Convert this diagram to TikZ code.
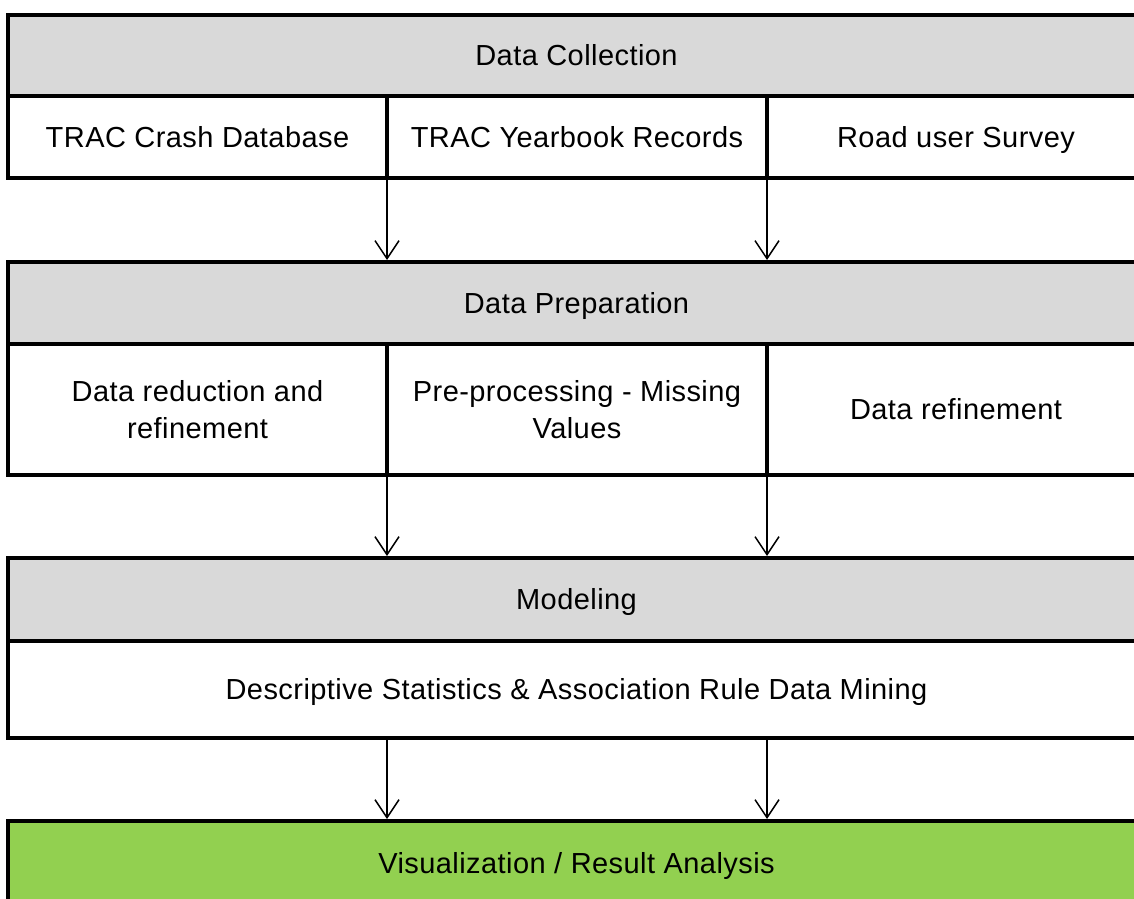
\documentclass[tikz,border=0pt]{standalone}
\usepackage{fontspec}
\setmainfont{Liberation Sans}[LetterSpace=1.5]
\usetikzlibrary{arrows.meta}
\definecolor{hdrgray}{HTML}{D9D9D9}
\definecolor{resgreen}{HTML}{92D050}
\begin{document}
\begin{tikzpicture}[x=1pt,y=-1pt,
  box/.style={draw=black, line width=4pt, anchor=north west, inner sep=0pt, outer sep=0pt,
              align=center, font=\fontsize{29}{37}\selectfont},
  oneline/.style={text height=20.8pt, text depth=0pt},
  hdr/.style={box, oneline, fill=hdrgray},
  cell/.style={box, fill=white},
  res/.style={box, oneline, fill=resgreen},
  arr/.style={line width=1.5pt, shorten >=2pt, -{Straight Barb[length=18pt,width=24pt]}}]
\useasboundingbox (0,0) rectangle (1134,898);
\clip (0,0) rectangle (1134,898);
% Data Collection
\node[hdr, minimum width=1137pt, minimum height=81pt] (h1) at (8,15) {Data Collection};
\node[cell, oneline, minimum width=379pt, minimum height=82pt] (a1) at (8,96) {TRAC Crash Database};
\node[cell, oneline, minimum width=380pt, minimum height=82pt] (a2) at (387,96) {TRAC Yearbook Records};
\node[cell, oneline, minimum width=378pt, minimum height=82pt] (a3) at (767,96) {Road user Survey};
% Data Preparation
\node[hdr, minimum width=1137pt, minimum height=82pt] (h2) at (8,262) {Data Preparation};
\node[cell, minimum width=379pt, minimum height=131pt] (b1) at (8,344) {Data reduction and\\refinement};
\node[cell, minimum width=380pt, minimum height=131pt] (b2) at (387,344) {Pre-processing - Missing\\Values};
\node[cell, oneline, minimum width=378pt, minimum height=131pt] (b3) at (767,344) {Data refinement};
% Modeling
\node[hdr, minimum width=1137pt, minimum height=83pt] (h3) at (8,558) {Modeling};
\node[cell, oneline, minimum width=1137pt, minimum height=97pt] (m1) at (8,641) {Descriptive Statistics \& Association Rule Data Mining};
% Result
\node[res, minimum width=1137pt, minimum height=85pt] (v1) at (8,821) {Visualization / Result Analysis};
% arrows
\draw[arr] (a1.south east) -- (a1.south east |- h2.north);
\draw[arr] (a2.south east) -- (a2.south east |- h2.north);
\draw[arr] (b1.south east) -- (b1.south east |- h3.north);
\draw[arr] (b2.south east) -- (b2.south east |- h3.north);
\draw[arr] (m1.south -| b1.south east) -- (v1.north -| b1.south east);
\draw[arr] (m1.south -| b2.south east) -- (v1.north -| b2.south east);
\end{tikzpicture}
\end{document}
